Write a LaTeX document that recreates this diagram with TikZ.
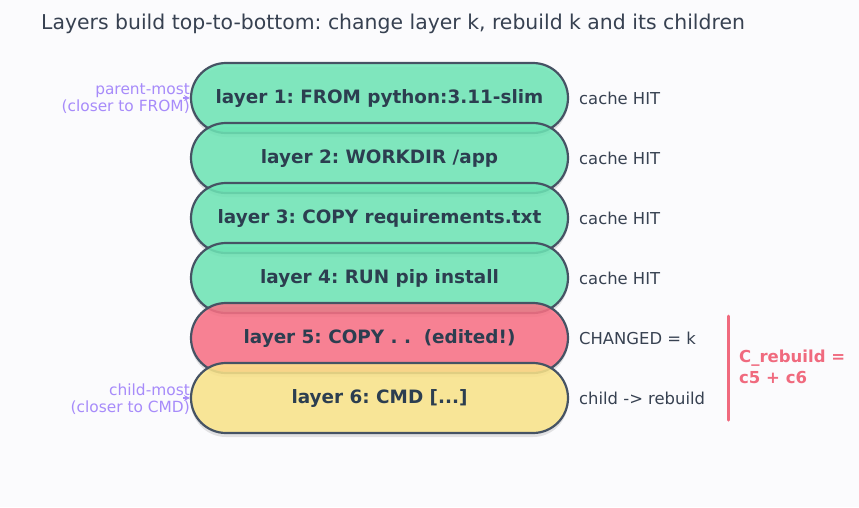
\documentclass[tikz,border=0pt]{standalone}
\usepackage{fontspec}
\setmainfont{DejaVu Sans}
\usetikzlibrary{arrows.meta,shadows}
\definecolor{bg}{HTML}{FBFBFD}
\definecolor{titlec}{HTML}{374151}
\definecolor{outl}{HTML}{465364}
\definecolor{txtc}{HTML}{2C3E50}
\definecolor{greenf}{HTML}{6EE7B7}
\definecolor{redf}{HTML}{FB7185}
\definecolor{yellowf}{HTML}{FDE68A}
\definecolor{purp}{HTML}{A78BFA}
\definecolor{rose}{HTML}{F06A7E}
\frenchspacing
\begin{document}
\begin{tikzpicture}[x=1pt,y=-1pt,
  layerbox/.style={draw=outl, line width=2.2pt, rounded corners=35pt,
    minimum width=377pt, minimum height=70pt, inner sep=0pt,
    fill opacity=0.85, text opacity=1, text=txtc,
    font=\fontsize{18.4}{22}\selectfont\bfseries,
    drop shadow={shadow xshift=0pt, shadow yshift=-4pt, opacity=0.10, fill=black}},
  rlabel/.style={anchor=west, inner sep=0pt, text=titlec, font=\fontsize{16.4}{20}\selectfont},
  llabel/.style={anchor=east, inner sep=0pt, align=right, text=purp, font=\fontsize{15.4}{17}\selectfont},
  parrow/.style={-{Stealth[length=6pt,width=6pt]}, draw=purp, line width=1.2pt}
]
\fill[bg] (0,0) rectangle (859,507);
\useasboundingbox (0,0) rectangle (859,507);

\node[anchor=base west, inner sep=0pt, text=titlec, font=\fontsize{20.4}{24}\selectfont] (title) at (41,29.5)
  {Layers build top-to-bottom: change layer k, rebuild k and its children};

\node[layerbox, fill=greenf] (L1) at (379.5,98) {layer 1: FROM python:3.11-slim};
\node[layerbox, fill=greenf] (L2) at (379.5,158) {layer 2: WORKDIR /app};
\node[layerbox, fill=greenf] (L3) at (379.5,218) {layer 3: COPY requirements.txt};
\node[layerbox, fill=greenf] (L4) at (379.5,278) {layer 4: RUN pip install};
\node[layerbox, fill=redf] (L5) at (379.5,338) {layer 5: COPY .\ .\ \ (edited!)};
\node[layerbox, fill=yellowf] (L6) at (379.5,398) {layer 6: CMD [...]};

\node[rlabel] (r1) at (579,98) {cache HIT};
\node[rlabel] (r2) at (579,158) {cache HIT};
\node[rlabel] (r3) at (579,218) {cache HIT};
\node[rlabel] (r4) at (579,278) {cache HIT};
\node[rlabel] (r5) at (579,338) {CHANGED = k};
\node[rlabel] (r6) at (579,398) {child -> rebuild};

\node[llabel] (pm) at (190,99) {parent-most\\(closer to FROM)};
\node[llabel] (cm) at (190,399) {child-most\\(closer to CMD)};
\draw[parrow] ([xshift=-7pt]L1.west) -- (L1.west);
\draw[parrow] ([xshift=-7pt]L6.west) -- (L6.west);

\coordinate (bt) at (728,316);
\coordinate (bb) at (728,420);
\draw[rose, line width=3pt, line cap=round] (bt) -- (bb);
\node[anchor=west, inner sep=0pt, align=left, text=rose, font=\fontsize{16.5}{21}\selectfont\bfseries] (crb) at (739,367)
  {C\_rebuild =\\c5 + c6};
\end{tikzpicture}
\end{document}
